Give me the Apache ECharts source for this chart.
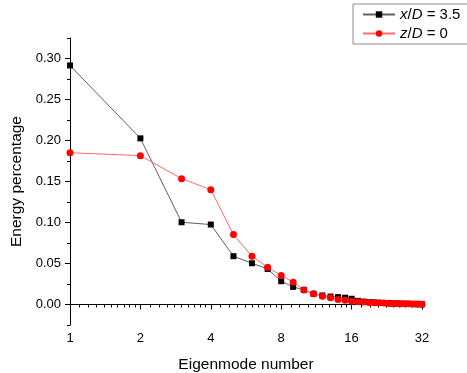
<!DOCTYPE html>
<html><head><meta charset="utf-8">
<script src="https://cdn.jsdelivr.net/npm/echarts@6/dist/echarts.min.js"></script>
<style>html,body{margin:0;padding:0;background:#fff}#c{width:467px;height:373px}</style>
</head><body><div id="c"></div>
<script>
const modes = [1,2,3,4,5,6,7,8,9,10,11,12,13,14,15,16,17,18,19,20,21,22,23,24,25,26,27,28,29,30,31,32];
const xD35 = [0.2915,0.2026,0.1003,0.0975,0.0589,0.0503,0.0434,0.0284,0.0215,0.0178,0.0130,0.0110,0.0097,0.0090,0.0083,0.0070,0.0045,0.0035,0.0030,0.0025,0.0020,0.0018,0.0015,0.0013,0.0011,0.0010,0.0008,0.0007,0.0006,0.0005,0.0004,0.0003];
const zD0 = [0.1851,0.1815,0.1535,0.1400,0.0853,0.0588,0.0454,0.0353,0.0272,0.0178,0.0130,0.0101,0.0081,0.0061,0.0053,0.0041,0.0035,0.0030,0.0025,0.0022,0.0020,0.0017,0.0015,0.0013,0.0011,0.0010,0.0009,0.0008,0.0007,0.0006,0.0005,0.0004];
const xTicks = [1,2,4,8,16,32];
const yTicks = [0,0.05,0.10,0.15,0.20,0.25,0.30];
const yMinorTicks = [-0.025,0.025,0.075,0.125,0.175,0.225,0.275,0.325];
const xMinorTicks = [];
for (const base of [1,2,4,8,16]) { for (let k=1;k<=9;k++) xMinorTicks.push(base*(1+k/10)); }

const FONT = 'Liberation Sans, Arial, sans-serif';
const chart = echarts.init(document.getElementById('c'), null, {renderer:'canvas'});
const pair = a => a.map((v,i)=>[modes[i], v]);
chart.setOption({
  animation:false,
  backgroundColor:'#fff',
  grid:{left:70,right:45,top:38,bottom:48,containLabel:false,outerBoundsMode:'none'},
  legend:{
    orient:'vertical', left:353, top:4,
    padding:[3,9,3,9], itemGap:4, itemWidth:32, itemHeight:8,
    borderColor:'#8a8a8a', borderWidth:1, backgroundColor:'#fff',
    textStyle:{fontFamily:FONT,fontSize:15,color:'#000',
      rich:{i:{fontFamily:FONT,fontSize:15,fontStyle:'italic',color:'#000'},
            n:{fontFamily:FONT,fontSize:15,color:'#000'}}},
    formatter: name => name==='x/D = 3.5' ? '{i|x}{n|/}{i|D}{n| = 3.5}' : '{i|z}{n|/}{i|D}{n| = 0}',
    data:['x/D = 3.5','z/D = 0']
  },
  xAxis:[{
    type:'log', logBase:2, min:1, max:32, name:'Eigenmode number',
    nameLocation:'middle', nameGap:32,
    nameTextStyle:{fontFamily:FONT,fontSize:15.5,color:'#000'},
    axisLine:{lineStyle:{color:'#000',width:1}},
    axisTick:{show:true,inside:false,length:5,customValues:xTicks,lineStyle:{color:'#000'}},
    axisLabel:{customValues:xTicks,fontFamily:FONT,fontSize:13,color:'#000',margin:7},
    splitLine:{show:false}, minorTick:{show:false}
  },{
    type:'log', logBase:2, min:1, max:32, position:'bottom', gridIndex:0,
    axisLine:{show:false},
    axisTick:{show:true,length:3,customValues:xMinorTicks,lineStyle:{color:'#000'}},
    axisLabel:{show:false}, splitLine:{show:false}
  }],
  yAxis:[{
    type:'value', min:-0.025, max:0.325, name:'Energy percentage',
    nameLocation:'middle', nameGap:38,
    nameTextStyle:{fontFamily:FONT,fontSize:15.5,color:'#000'},
    axisLine:{show:true,lineStyle:{color:'#000',width:1}},
    axisTick:{show:true,length:5,customValues:yTicks,lineStyle:{color:'#000'}},
    axisLabel:{customValues:yTicks,formatter:v=>v.toFixed(2),fontFamily:FONT,fontSize:13,color:'#000',margin:9},
    splitLine:{show:false}
  },{
    type:'value', min:-0.025, max:0.325, position:'left', gridIndex:0,
    axisLine:{show:false},
    axisTick:{show:true,length:3,customValues:yMinorTicks,lineStyle:{color:'#000'}},
    axisLabel:{show:false}, splitLine:{show:false}
  }],
  series:[{
    name:'x/D = 3.5', type:'line', data:pair(xD35),
    symbol:'rect', symbolSize:6,
    lineStyle:{color:'#606060',width:1},
    itemStyle:{color:'#000'}
  },{
    name:'z/D = 0', type:'line', data:pair(zD0),
    symbol:'circle', symbolSize:7,
    lineStyle:{color:'#ff6a6a',width:1},
    itemStyle:{color:'#ff0000'}
  }]
});
</script></body></html>
